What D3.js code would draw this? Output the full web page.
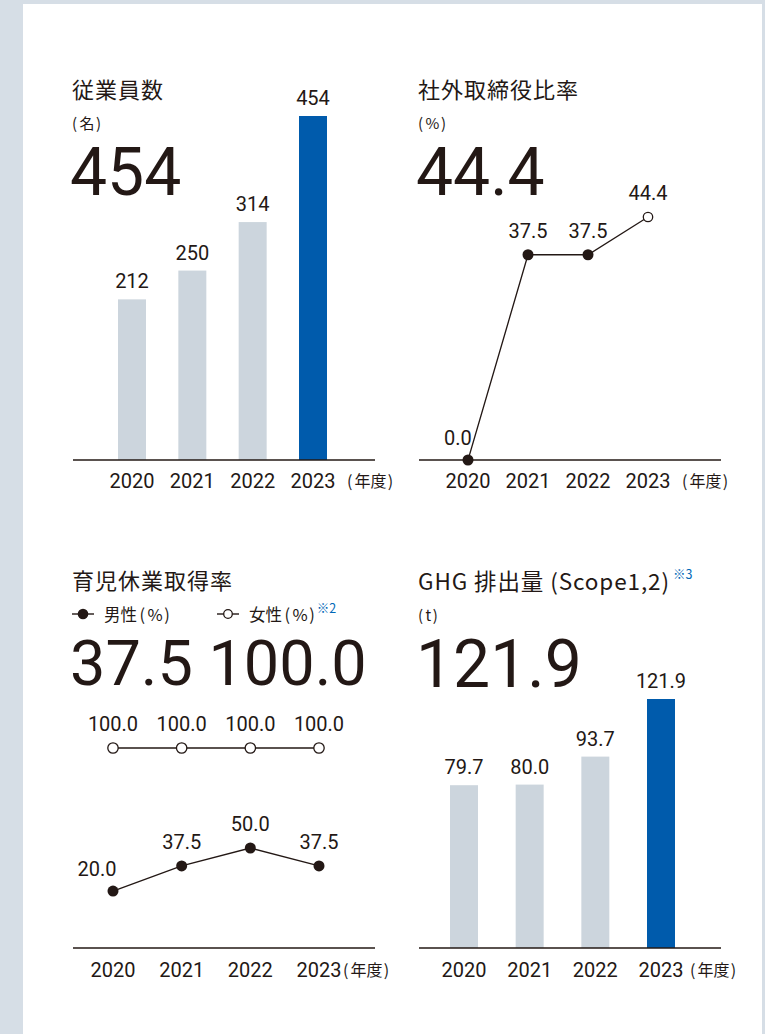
<!DOCTYPE html>
<html>
<head>
<meta charset="utf-8">
<script src="https://cdn.jsdelivr.net/npm/d3@7"></script>
<style>
  body { margin: 0; background: #d6dee6; }
  svg { display: block; }
  .jp { font-family: 'Noto Sans CJK JP', 'Noto Sans', sans-serif; }
  .num { font-family: Roboto, 'Noto Sans', sans-serif; }
</style>
</head>
<body>
<div id="chart"></div>
<script>
const years = ['2020', '2021', '2022', '2023']
const employees = [212, 250, 314, 454]
const outsideRatio = [0.0, 37.5, 37.5, 44.4]
const leaveMale = [20.0, 37.5, 50.0, 37.5]
const leaveFemale = [100.0, 100.0, 100.0, 100.0]
const ghg = [79.7, 80.0, 93.7, 121.9]

const ink = '#231815'
const gray = '#ccd5dd'
const blue = '#005bac'
const noteBlue = '#0068b7'

const svg = d3.select('#chart').append('svg')
  .attr('width', 765)
  .attr('height', 1034)

svg.append('rect').attr('width', 765).attr('height', 1034).attr('fill', '#d6dee6')
svg.append('rect').attr('x', 23).attr('y', 4).attr('width', 739).attr('height', 1030).attr('fill', '#fff')

const fmt1 = d3.format('.1f')

// text like 男性(%) with a little air around the brackets
const bracketText = (sel, before, inner, gap) => {
  if (before) sel.append('tspan').text(before)
  sel.append('tspan').attr('dx', before ? gap : 0).text('(')
  sel.append('tspan').attr('dx', gap).text(inner)
  sel.append('tspan').attr('dx', gap * 0.6).text(')')
  return sel
}

// title / unit / big figure block
const header = (x, y, title, unit, big) => {
  const t = svg.append('text').attr('class', 'jp')
    .attr('x', x).attr('y', y)
    .attr('font-size', 22).attr('letter-spacing', 1).attr('fill', ink)
    .text(title)
  if (unit) {
    const u = svg.append('text').attr('class', 'jp')
      .attr('x', x).attr('y', y + 31)
      .attr('font-size', 15).attr('fill', ink)
    bracketText(u, '', unit, 2.5)
  }
  svg.append('text').attr('class', 'num')
    .attr('x', x - 2).attr('y', y + 97)
    .attr('font-size', 66).attr('fill', ink)
    .text(big)
  return t
}

const xAxis = (x, axisY, x0, x1, labelY, unitX) => {
  svg.append('line')
    .attr('x1', x0).attr('x2', x1).attr('y1', axisY).attr('y2', axisY)
    .attr('stroke', ink).attr('stroke-width', 1.3)
  svg.append('g').selectAll('text')
    .data(years).enter()
    .append('text').attr('class', 'num')
    .attr('x', d => x(d)).attr('y', labelY)
    .attr('text-anchor', 'middle')
    .attr('font-size', 20).attr('fill', ink)
    .text(d => d)
  const u = svg.append('text').attr('class', 'jp')
    .attr('x', unitX).attr('y', labelY - 1)
    .attr('font-size', 16).attr('fill', ink)
  bracketText(u, '', '年度', 2)
}

const bars = (values, x, y, axisY, fmt) => {
  const g = svg.append('g')
  g.selectAll('rect')
    .data(values).enter()
    .append('rect')
    .attr('x', (d, i) => x(years[i]) - 14)
    .attr('width', 28)
    .attr('y', d => y(d))
    .attr('height', d => axisY - y(d))
    .attr('fill', (d, i) => i === values.length - 1 ? blue : gray)
  g.selectAll('text')
    .data(values).enter()
    .append('text').attr('class', 'num')
    .attr('x', (d, i) => x(years[i]))
    .attr('y', d => y(d) - 11)
    .attr('text-anchor', 'middle')
    .attr('font-size', 20).attr('fill', ink)
    .text(fmt)
}

const lineSeries = (values, x, y, openFn, r, firstDx) => {
  const g = svg.append('g')
  const line = d3.line()
    .x((d, i) => x(years[i]))
    .y(d => y(d))
  g.append('path')
    .attr('d', line(values))
    .attr('fill', 'none').attr('stroke', ink).attr('stroke-width', 1.3)
  g.selectAll('circle')
    .data(values).enter()
    .append('circle')
    .attr('cx', (d, i) => x(years[i]))
    .attr('cy', d => y(d))
    .attr('r', (d, i) => openFn(i) ? r - 0.8 : r)
    .attr('fill', (d, i) => openFn(i) ? '#fff' : ink)
    .attr('stroke', ink).attr('stroke-width', (d, i) => openFn(i) ? 1.3 : 0)
  g.selectAll('text')
    .data(values).enter()
    .append('text').attr('class', 'num')
    .attr('x', (d, i) => x(years[i]) + (i === 0 ? firstDx : 0))
    .attr('y', (d, i) => y(d) - (i === 0 && firstDx ? 15 : 17))
    .attr('text-anchor', 'middle')
    .attr('font-size', 20).attr('fill', ink)
    .text(fmt1)
}

// --- 従業員数
{
  header(72, 98, '従業員数', '名', String(employees[employees.length - 1]))
  const x = d3.scalePoint().domain(years).range([132, 313])
  const y = d3.scaleLinear().domain([0, 454]).range([460, 116])
  bars(employees, x, y, 460, d => d)
  xAxis(x, 460, 73, 375, 488, 347)
}

// --- 社外取締役比率
{
  header(418, 98, '社外取締役比率', '%', fmt1(outsideRatio[outsideRatio.length - 1]))
  const x = d3.scalePoint().domain(years).range([468, 648])
  const y = d3.scaleLinear().domain([0, 44.4]).range([460, 217])
  xAxis(x, 460, 419, 721, 488, 682)
  lineSeries(outsideRatio, x, y, i => i === outsideRatio.length - 1, 5.5, -10)
}

// --- 育児休業取得率
{
  svg.append('text').attr('class', 'jp')
    .attr('x', 72).attr('y', 589)
    .attr('font-size', 22).attr('letter-spacing', 1).attr('fill', ink)
    .text('育児休業取得率')

  const legend = [
    { x: 72, label: '男性', open: false, note: '' },
    { x: 217, label: '女性', open: true, note: '※2' }
  ]
  legend.forEach(l => {
    svg.append('line')
      .attr('x1', l.x).attr('x2', l.x + 22).attr('y1', 614).attr('y2', 614)
      .attr('stroke', ink).attr('stroke-width', 1.4)
    svg.append('circle')
      .attr('cx', l.x + 11).attr('cy', 614).attr('r', l.open ? 4.3 : 5.3)
      .attr('fill', l.open ? '#fff' : ink)
      .attr('stroke', ink).attr('stroke-width', l.open ? 1.3 : 0)
    const t = svg.append('text').attr('class', 'jp')
      .attr('x', l.x + 32).attr('y', 621)
      .attr('font-size', 16.5).attr('fill', ink)
    bracketText(t, l.label, '%', 2.5)
    if (l.note) {
      t.append('tspan').attr('dx', 2).attr('dy', -8)
        .attr('font-size', 12.5).attr('fill', noteBlue)
        .text(l.note)
    }
  })

  svg.append('text').attr('class', 'num')
    .attr('x', 70).attr('y', 685)
    .attr('font-size', 63).attr('fill', ink)
    .text(fmt1(leaveMale[leaveMale.length - 1]) + ' ' + fmt1(leaveFemale[leaveFemale.length - 1]))

  const x = d3.scalePoint().domain(years).range([113, 319])
  const yMale = d3.scaleLinear().domain([0, 50]).range([919.7, 848])
  const yFemale = d3.scaleLinear().domain([0, 100]).range([948, 748])
  xAxis(x, 948, 73, 375, 977, 343)
  lineSeries(leaveFemale, x, yFemale, () => true, 6, 0)
  lineSeries(leaveMale, x, yMale, () => false, 5.5, -16)
}

// --- GHG排出量
{
  const t = header(418, 590, 'GHG 排出量 (Scope1,2)', 't', fmt1(ghg[ghg.length - 1]))
  t.attr('letter-spacing', 0.9).attr('font-size', 22.5)
  t.append('tspan').attr('dx', 3).attr('dy', -11)
    .attr('font-size', 12.5).attr('letter-spacing', 0).attr('fill', noteBlue)
    .text('※3')
  const x = d3.scalePoint().domain(years).range([464, 661])
  const y = d3.scaleLinear().domain([0, 121.9]).range([948, 699])
  bars(ghg, x, y, 948, fmt1)
  xAxis(x, 948, 419, 721, 977, 690)
}
</script>
</body>
</html>
